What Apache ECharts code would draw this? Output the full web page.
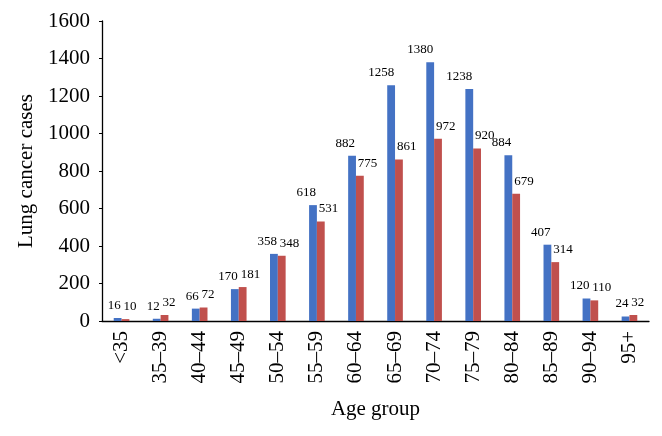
<!DOCTYPE html>
<html>
<head>
<meta charset="utf-8">
<script src="https://cdn.jsdelivr.net/npm/echarts@6/dist/echarts.min.js"></script>
<style>html,body{margin:0;padding:0;background:#fff;}#c{width:662px;height:436px;}</style>
</head>
<body>
<div id="c"></div>
<script>
const categories = ['<35','35–39','40–44','45–49','50–54','55–59','60–64','65–69','70–74','75–79','80–84','85–89','90–94','95+'];
const seriesA = [16, 12, 66, 170, 358, 618, 882, 1258, 1380, 1238, 884, 407, 120, 24];
const seriesB = [10, 32, 72, 181, 348, 531, 775, 861, 972, 920, 679, 314, 110, 32];
const yTicks = [0, 200, 400, 600, 800, 1000, 1200, 1400, 1600];

const FONT = '"Liberation Serif", "Times New Roman", serif';
const chart = echarts.init(document.getElementById('c'), null, {renderer: 'canvas'});
chart.setOption({
  animation: false,
  backgroundColor: '#fff',
  grid: {left: 102, right: 13, top: 21, bottom: 115, containLabel: false},
  xAxis: {
    type: 'category',
    data: categories,
    name: 'Age group',
    nameLocation: 'middle',
    nameGap: 78,
    nameTextStyle: {fontFamily: FONT, fontSize: 21, color: '#000'},
    axisLine: {lineStyle: {color: '#000', width: 1.3}},
    axisTick: {show: false},
    axisLabel: {rotate: 90, margin: 10, fontFamily: FONT, fontSize: 21, color: '#000', interval: 0}
  },
  yAxis: {
    type: 'value',
    min: yTicks[0],
    max: yTicks[yTicks.length - 1],
    interval: 200,
    name: 'Lung cancer cases',
    nameLocation: 'middle',
    nameRotate: 90,
    nameGap: 55,
    nameTextStyle: {fontFamily: FONT, fontSize: 21, color: '#000'},
    axisLine: {show: true, lineStyle: {color: '#000', width: 1.3}},
    axisTick: {show: true, length: 3, lineStyle: {color: '#000'}},
    splitLine: {show: false},
    axisLabel: {margin: 12, fontFamily: FONT, fontSize: 21, color: '#000',
                formatter: function (v) { return String(v); }}
  },
  series: [
    {
      type: 'bar',
      data: seriesA,
      barWidth: '20%',
      barGap: '0%',
      itemStyle: {color: '#4472C4'},
      label: {show: true, position: 'top', distance: 6, align: 'right', offset: [3, 0],
              fontFamily: FONT, fontSize: 13, color: '#000'}
    },
    {
      type: 'bar',
      data: seriesB,
      barWidth: '20%',
      barGap: '0%',
      itemStyle: {color: '#C0504D'},
      label: {show: true, position: 'top', distance: 6, align: 'left', offset: [-2, 0],
              fontFamily: FONT, fontSize: 13, color: '#000'}
    }
  ]
});
</script>
</body>
</html>
